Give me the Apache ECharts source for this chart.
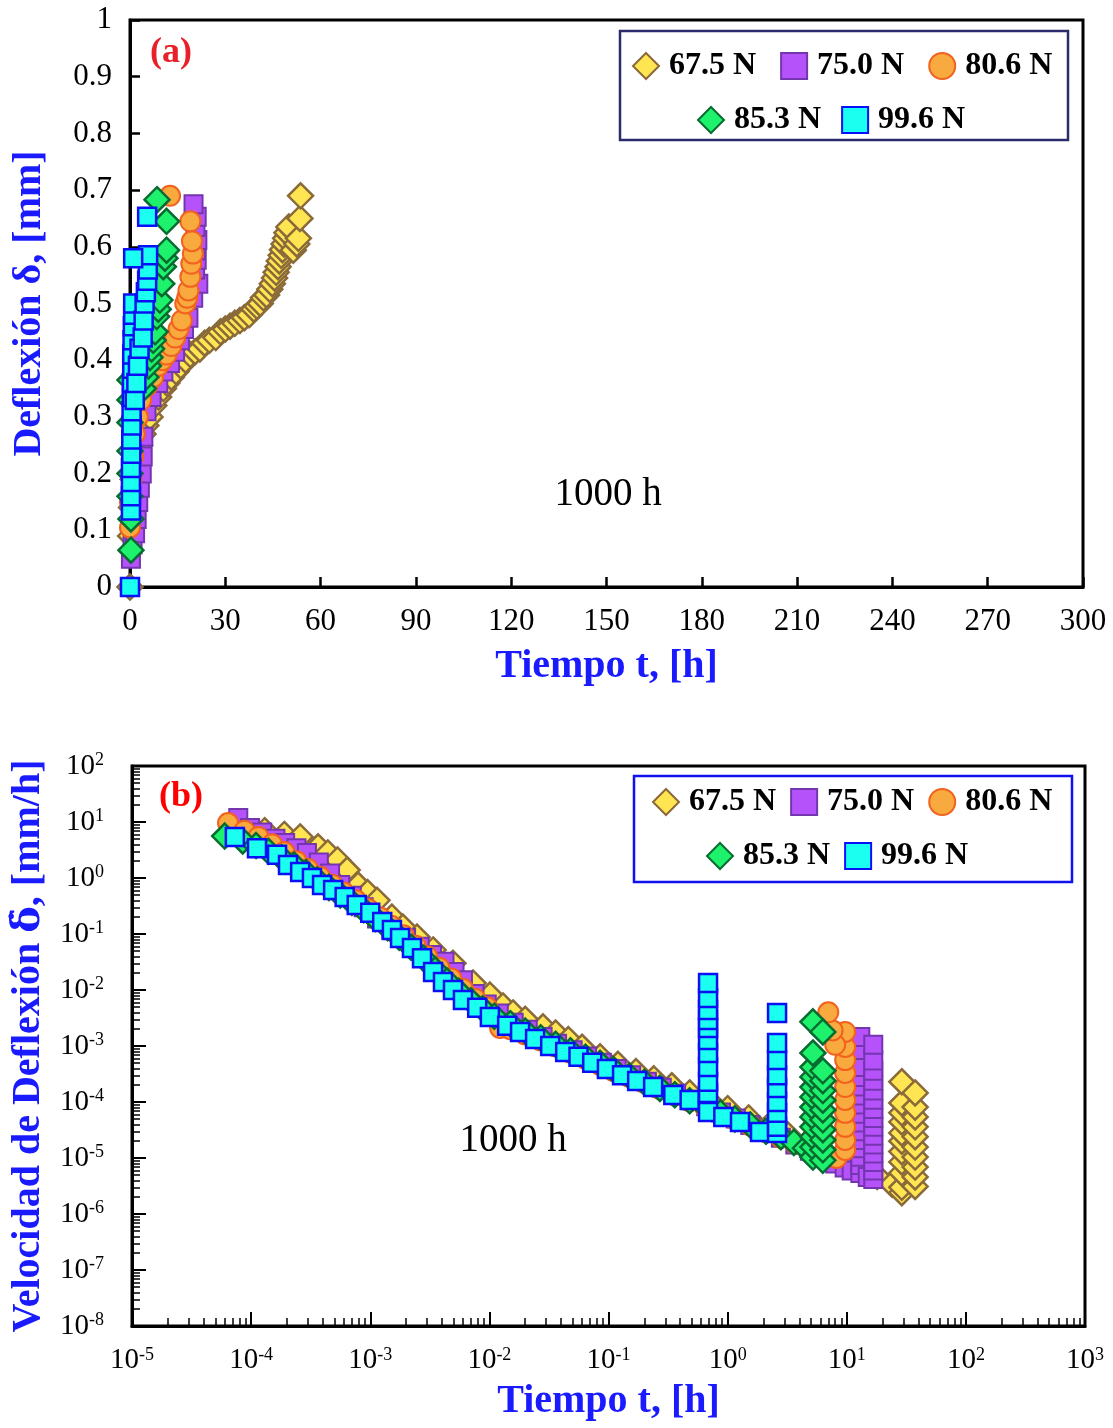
<!DOCTYPE html>
<html><head><meta charset="utf-8">
<script src="https://cdn.jsdelivr.net/npm/echarts@6/dist/echarts.min.js"></script>
<style>html,body{margin:0;padding:0;background:#fff}#c{width:1113px;height:1428px}</style>
</head><body><div id="c"></div>
<script>
const seriesNames = ['67.5 N', '75.0 N', '80.6 N', '85.3 N', '99.6 N'];

// ---- (a) Deflexión vs tiempo : [t (h), δ (mm)]
const defl675 = [[0,0],[0.2,0.09],[0.5,0.14],[1,0.19],[2,0.23],[3,0.25],[4.1,0.27],[5,0.285],[6.3,0.3],[7.5,0.32],[9,0.335],[10.5,0.35],[11.6,0.36],[13,0.37],[14.5,0.38],[16,0.39],[17.5,0.4],[19,0.41],[20.5,0.415],[22,0.42],[23.5,0.43],[25,0.435],[27,0.44],[28.5,0.45],[30,0.455],[31.5,0.46],[33,0.465],[34.6,0.47],[36,0.475],[37.5,0.48],[39,0.49],[40,0.495],[41,0.5],[42,0.51],[43,0.515],[44,0.525],[44.8,0.535],[45.5,0.545],[46,0.555],[46.6,0.565],[47,0.575],[47.6,0.585],[48,0.595],[48.5,0.605],[49,0.615],[49.4,0.625],[50,0.635],[51.4,0.594],[52.5,0.605],[53,0.615],[53.5,0.65],[53.7,0.69]];
const defl750 = [[0.3,0.05],[0.8,0.075],[1.6,0.095],[2.1,0.12],[2.6,0.15],[3.1,0.175],[3.7,0.2],[4,0.23],[4.2,0.265],[5.2,0.31],[6.8,0.335],[8.9,0.36],[10.5,0.38],[12.6,0.395],[14.2,0.415],[15.7,0.435],[17,0.455],[18.4,0.475],[19.9,0.51],[21.5,0.535],[20.5,0.56],[21,0.577],[20.8,0.594],[21.2,0.612],[20.6,0.635],[21,0.653],[20,0.675]];
const defl806 = [[0,0.105],[0,0.15],[0.5,0.19],[1,0.23],[1.5,0.27],[2.5,0.3],[3.5,0.33],[5.5,0.355],[7.3,0.37],[8.9,0.39],[10.2,0.4],[11.5,0.41],[13,0.425],[14.2,0.44],[15.3,0.455],[16.3,0.47],[17.4,0.5],[18,0.51],[18.4,0.523],[19,0.547],[19.3,0.57],[19.8,0.588],[19.5,0.61],[19,0.645],[12.6,0.69]];
const defl853 = [[0.3,0.065],[0.3,0.12],[0,0.16],[0,0.2],[0,0.24],[0,0.29],[0,0.33],[0,0.365],[4.2,0.35],[5,0.37],[5.8,0.39],[6.3,0.405],[6.8,0.42],[7.3,0.435],[7.9,0.45],[8.4,0.477],[8.9,0.49],[9.4,0.506],[10,0.535],[10.5,0.565],[11,0.58],[11.5,0.594],[11.5,0.645],[8.5,0.683]];
const defl996 = [[0,0],[0.3,0.135],[0.3,0.16],[0.3,0.185],[0.3,0.21],[0.4,0.235],[0.4,0.26],[0.5,0.285],[0.5,0.31],[0.6,0.335],[0.6,0.36],[0.7,0.385],[0.7,0.41],[0.8,0.435],[0.9,0.46],[1,0.48],[1,0.5],[1.5,0.33],[2,0.36],[2.5,0.39],[3,0.42],[4,0.44],[4.3,0.47],[4.6,0.5],[5,0.52],[5.4,0.54],[5.6,0.56],[5.7,0.585],[1,0.58],[5.4,0.653]];

// ---- (b) Velocidad de deflexión vs tiempo : [t (h), v (mm/h)]
const rate675 = [[1.3e-4,7.0],[1.9e-4,6.0],[2.58e-4,5.4],[3.65e-4,3.6],[4.4e-4,2.8],[5.3e-4,2.1],[6.4e-4,1.39],[7.9e-4,0.75],[9.5e-4,0.55],[1.14e-3,0.4],[1.52e-3,0.2],[1.88e-3,0.133],[2.47e-3,0.088],[3.37e-3,0.052],[4.95e-3,0.03],[7.3e-3,0.0133],[1.01e-2,8.1e-3],[1.3e-2,5.2e-3],[1.58e-2,3.9e-3],[2.0e-2,3.0e-3],[2.82e-2,2.2e-3],[3.6e-2,1.7e-3],[4.6e-2,1.3e-3],[6.0e-2,9.5e-4],[8.5e-2,6.4e-4],[0.12,4.7e-4],[0.17,3.5e-4],[0.24,2.6e-4],[0.34,1.95e-4],[0.48,1.45e-4],[0.7,1.05e-4],[1.0,7.6e-5],[1.5,5.2e-5],[2.2,3.7e-5],[3.2,2.6e-5],[4.6,1.8e-5],[6.5,1.3e-5],[9.0,9.5e-6],[13,6.6e-6],[18,4.7e-6],[24,3.4e-6],[29,2.4e-6],[29,3.0e-6],[29,5.4e-6],[29,8.5e-6],[29,1.3e-5],[29,2.0e-5],[29,2.8e-5],[29,4.4e-5],[29,6.4e-5],[29,9.6e-5],[29,2.3e-4],[37.5,3.1e-6],[37.5,4.6e-6],[37.5,6.9e-6],[37.5,1.04e-5],[37.5,1.57e-5],[37.5,2.4e-5],[37.5,3.6e-5],[37.5,5.4e-5],[37.5,8.1e-5],[37.5,1.45e-4]];
const rate750 = [[7.8e-5,11.8],[9.8e-5,7.8],[1.24e-4,6.5],[1.6e-4,5.0],[1.93e-4,4.2],[2.4e-4,3.4],[2.94e-4,2.8],[3.7e-4,1.9],[4.6e-4,1.2],[5.6e-4,0.75],[7.0e-4,0.48],[8.8e-4,0.3],[1.14e-3,0.19],[1.5e-3,0.12],[2.0e-3,0.085],[2.6e-3,0.059],[3.3e-3,0.042],[4.2e-3,0.032],[5.1e-3,0.021],[6.0e-3,0.015],[7.5e-3,8.5e-3],[9.5e-3,5.5e-3],[1.2e-2,3.8e-3],[1.6e-2,2.6e-3],[2.1e-2,1.95e-3],[2.8e-2,1.45e-3],[3.7e-2,1.1e-3],[5.0e-2,8.4e-4],[6.6e-2,6.5e-4],[8.8e-2,5.0e-4],[0.117,3.9e-4],[0.155,3.0e-4],[0.21,2.3e-4],[0.28,1.8e-4],[0.37,1.4e-4],[0.5,1.08e-4],[0.66,8.4e-5],[0.88,6.5e-5],[1.17,5.1e-5],[1.55,3.9e-5],[2.1,3.0e-5],[2.8,2.3e-5],[3.7,1.75e-5],[4.9,1.35e-5],[6.5,1.05e-5],[8.0,8.0e-6],[9.6,6.8e-6],[11,6.0e-6],[13,5.4e-6],[13,7.5e-6],[13,1.05e-5],[13,1.5e-5],[13,2.1e-5],[13,3.0e-5],[13,4.3e-5],[13,6.2e-5],[13,9.0e-5],[13,1.3e-4],[13,1.9e-4],[13,2.8e-4],[13,4.2e-4],[13,8.5e-4],[13,1.45e-3],[15,4.6e-6],[16.7,4.2e-6],[16.7,6.0e-6],[16.7,8.5e-6],[16.7,1.2e-5],[16.7,1.75e-5],[16.7,2.5e-5],[16.7,3.6e-5],[16.7,5.2e-5],[16.7,7.5e-5],[16.7,1.1e-4],[16.7,1.6e-4],[16.7,2.4e-4],[16.7,3.6e-4],[16.7,5.5e-4],[16.7,1.05e-3]];
const rate806 = [[6.4e-5,9.6],[8.8e-5,7.0],[1.15e-4,5.4],[1.5e-4,4.0],[1.9e-4,2.9],[2.4e-4,2.0],[3.0e-4,1.45],[3.8e-4,1.05],[4.8e-4,0.76],[6.0e-4,0.55],[7.6e-4,0.4],[9.6e-4,0.28],[1.2e-3,0.2],[1.5e-3,0.14],[1.9e-3,0.095],[2.4e-3,0.062],[3.0e-3,0.04],[3.8e-3,0.025],[4.8e-3,0.016],[6.0e-3,0.0105],[7.6e-3,7.0e-3],[9.6e-3,4.9e-3],[1.23e-2,2.1e-3],[1.5e-2,2.0e-3],[2.0e-2,1.6e-3],[2.7e-2,1.25e-3],[3.6e-2,9.8e-4],[4.8e-2,7.6e-4],[6.4e-2,5.9e-4],[8.5e-2,4.6e-4],[0.11,3.6e-4],[0.15,2.8e-4],[0.2,2.2e-4],[0.27,1.7e-4],[0.36,1.32e-4],[0.48,1.03e-4],[0.65,8.0e-5],[0.87,6.3e-5],[1.15,4.9e-5],[1.55,3.8e-5],[2.1,2.9e-5],[2.8,2.3e-5],[3.7,1.8e-5],[4.9,1.45e-5],[6.4,1.2e-5],[8.2,1.0e-5],[9.7,1.39e-5],[9.7,2.1e-5],[9.7,3.6e-5],[9.7,6.4e-5],[9.7,1.09e-4],[9.7,1.85e-4],[9.7,3.3e-4],[9.7,5.6e-4],[9.7,9.6e-4],[9.7,1.78e-3],[8.0,1.05e-3],[7.6,1.9e-3],[7.0,4.0e-3]];
const rate853 = [[6.0e-5,5.6],[8.5e-5,4.6],[1.1e-4,3.8],[1.4e-4,3.0],[1.8e-4,2.3],[2.3e-4,1.7],[2.9e-4,1.25],[3.6e-4,0.92],[4.5e-4,0.68],[5.6e-4,0.5],[7.0e-4,0.37],[8.8e-4,0.27],[1.1e-3,0.19],[1.4e-3,0.13],[1.75e-3,0.088],[2.2e-3,0.058],[2.8e-3,0.037],[3.5e-3,0.023],[4.4e-3,0.0145],[5.5e-3,9.5e-3],[7.0e-3,6.4e-3],[8.8e-3,4.6e-3],[1.1e-2,3.4e-3],[1.5e-2,2.5e-3],[2.0e-2,1.85e-3],[2.7e-2,1.4e-3],[3.6e-2,1.07e-3],[4.8e-2,8.2e-4],[6.4e-2,6.3e-4],[8.5e-2,4.9e-4],[0.11,3.8e-4],[0.15,2.9e-4],[0.2,2.25e-4],[0.27,1.75e-4],[0.36,1.35e-4],[0.48,1.05e-4],[0.65,8.2e-5],[0.87,6.4e-5],[1.15,5.0e-5],[1.55,3.9e-5],[2.1,3.0e-5],[2.8,2.4e-5],[3.6,1.9e-5],[4.5,1.5e-5],[5.2,1.04e-5],[5.2,1.57e-5],[5.2,2.4e-5],[5.2,3.6e-5],[5.2,5.4e-5],[5.2,8.1e-5],[5.2,1.23e-4],[5.2,1.85e-4],[5.2,2.8e-4],[5.2,4.2e-4],[5.2,7.5e-4],[5.2,2.7e-3],[6.3,9.1e-6],[6.3,1.4e-5],[6.3,2.1e-5],[6.3,3.2e-5],[6.3,4.8e-5],[6.3,7.2e-5],[6.3,1.08e-4],[6.3,1.6e-4],[6.3,2.4e-4],[6.3,3.6e-4],[6.3,1.78e-3]];
const rate996 = [[7.3e-5,5.4],[1.12e-4,3.4],[1.65e-4,2.6],[2.04e-4,1.7],[2.58e-4,1.28],[3.24e-4,1.0],[3.94e-4,0.75],[4.88e-4,0.61],[6.1e-4,0.46],[7.7e-4,0.33],[1.0e-3,0.24],[1.26e-3,0.164],[1.52e-3,0.118],[1.78e-3,0.085],[2.24e-3,0.056],[2.72e-3,0.037],[3.37e-3,0.021],[4.08e-3,0.0139],[4.95e-3,0.01],[6.0e-3,6.6e-3],[7.9e-3,4.8e-3],[1.01e-2,3.3e-3],[1.41e-2,2.3e-3],[1.81e-2,1.78e-3],[2.42e-2,1.33e-3],[3.24e-2,1.0e-3],[4.33e-2,7.8e-4],[5.6e-2,6.4e-4],[7.3e-2,5.0e-4],[9.7e-2,3.9e-4],[0.13,3.0e-4],[0.174,2.37e-4],[0.237,1.85e-4],[0.35,1.33e-4],[0.48,1.09e-4],[0.685,6.6e-5],[0.685,1.45e-4],[0.685,2.3e-4],[0.685,4.2e-4],[0.685,7.5e-4],[0.685,1.28e-3],[0.685,2.1e-3],[0.685,2.9e-3],[0.685,4.4e-3],[0.685,7.2e-3],[0.685,1.33e-2],[0.92,5.4e-5],[1.27,4.4e-5],[1.87,2.9e-5],[2.6,2.8e-5],[2.6,3.6e-5],[2.6,6.4e-5],[2.6,1.0e-4],[2.6,1.78e-4],[2.6,3.0e-4],[2.6,5.6e-4],[2.6,1.13e-3],[2.6,3.9e-3]];

// ---- axis ticks
const xTicksA = [0, 30, 60, 90, 120, 150, 180, 210, 240, 270, 300];
const yTicksA = [0, 0.1, 0.2, 0.3, 0.4, 0.5, 0.6, 0.7, 0.8, 0.9, 1];
const xDecadesB = [1e-5, 1e-4, 1e-3, 1e-2, 1e-1, 1, 10, 100, 1000];
const yDecadesB = [1e-8, 1e-7, 1e-6, 1e-5, 1e-4, 1e-3, 1e-2, 1e-1, 1, 10, 100];

function minorsOf(decades) {
  const out = [];
  for (let i = 0; i < decades.length - 1; i++)
    for (let m = 2; m < 10; m++) out.push(+(m * decades[i]).toPrecision(6));
  return out;
}

const defl = [defl675, defl750, defl806, defl853, defl996];
const rate = [rate675, rate750, rate806, rate853, rate996];
const styles = [
  { symbol: 'diamond', size: 25, fill: '#FFE552', border: '#8A6A3A', bw: 2.5 },
  { symbol: 'rect', size: 18, fill: '#B652FA', border: '#7436AE', bw: 2 },
  { symbol: 'circle', size: 20, fill: '#F9AA3E', border: '#F2611E', bw: 2 },
  { symbol: 'diamond', size: 25, fill: '#1EF26C', border: '#0A6B32', bw: 2.5 },
  { symbol: 'rect', size: 18, fill: '#1AFFEF', border: '#0A10F5', bw: 2.5 }
];

const FONT = 'Liberation Serif';
const BLUE = '#1A1AFF';

function mkSeries(i, data, xi, yi) {
  const s = styles[i];
  return {
    type: 'scatter', name: seriesNames[i], data: data, xAxisIndex: xi, yAxisIndex: yi,
    symbol: s.symbol, symbolSize: s.size, clip: false,
    itemStyle: { color: s.fill, borderColor: s.border, borderWidth: s.bw, opacity: 1 },
    emphasis: { disabled: true }
  };
}
const series = [];
for (let i = 0; i < 5; i++) series.push(mkSeries(i, defl[i], 0, 0));
for (let i = 0; i < 5; i++) series.push(mkSeries(i, rate[i], 1, 1));

const supFmt = v => '{b|10}{s|' + Math.round(Math.log10(v)) + '}';
const supRich = {
  b: { fontSize: 29, fontFamily: FONT, color: '#000' },
  s: { fontSize: 18, fontFamily: FONT, color: '#000', verticalAlign: 'top' }
};
const nameStyle = { fontSize: 40, fontWeight: 'bold', color: BLUE, fontFamily: FONT };
const nameStyleDot = Object.assign({}, nameStyle, {
  rich: { d: { fontSize: 40, fontWeight: 'bold', color: BLUE, fontFamily: 'DejaVu Serif' } }
});
const lineBlack = { color: '#000', width: 3 };

const legendText = { fontSize: 32, fontWeight: 'bold', fontFamily: FONT, color: '#000', padding: [0, 0, 0, 5] };
function mkLegend(names, left, top, gap) {
  return { data: names, left: left, top: top, orient: 'horizontal', itemWidth: 26, itemHeight: 26,
    itemGap: gap, padding: 0, selectedMode: false, textStyle: legendText };
}

const option = {
  animation: false,
  backgroundColor: '#fff',
  textStyle: { fontFamily: FONT },
  grid: [
    { left: 130, top: 20, width: 953, height: 567, show: true, borderColor: '#000', borderWidth: 3 },
    { left: 132, top: 766, width: 953, height: 560, show: true, borderColor: '#000', borderWidth: 3 }
  ],
  xAxis: [
    { gridIndex: 0, type: 'value', min: xTicksA[0], max: xTicksA[xTicksA.length - 1], interval: 30,
      axisLine: { show: true, lineStyle: lineBlack },
      axisTick: { show: true, inside: true, length: 10, lineStyle: { color: '#000', width: 2.5 } },
      axisLabel: { fontSize: 31, color: '#000', margin: 19, fontFamily: FONT },
      splitLine: { show: false },
      name: 'Tiempo t, [h]', nameLocation: 'middle', nameGap: 60, nameTextStyle: nameStyle },
    { gridIndex: 1, type: 'log', min: 1e-5, max: 1e3, position: 'bottom',
      axisLine: { show: true, lineStyle: lineBlack },
      axisTick: { show: true, inside: true, length: 14, customValues: xDecadesB, lineStyle: { color: '#000', width: 2 } },
      axisLabel: { customValues: xDecadesB, formatter: supFmt, rich: supRich, margin: 20 },
      splitLine: { show: false }, minorTick: { show: false },
      name: 'Tiempo t, [h]', nameLocation: 'middle', nameGap: 56, nameTextStyle: nameStyle },
    { gridIndex: 1, type: 'log', min: 1e-5, max: 1e3, position: 'bottom',
      axisLine: { show: false },
      axisTick: { show: true, inside: true, length: 8, customValues: minorsOf(xDecadesB), lineStyle: { color: '#000', width: 1.5 } },
      axisLabel: { show: false }, splitLine: { show: false } }
  ],
  yAxis: [
    { gridIndex: 0, type: 'value', min: yTicksA[0], max: yTicksA[yTicksA.length - 1], interval: 0.1,
      axisLine: { show: true, lineStyle: lineBlack },
      axisTick: { show: true, inside: true, length: 10, lineStyle: { color: '#000', width: 2.5 } },
      axisLabel: { fontSize: 31, color: '#000', margin: 18, fontFamily: FONT },
      splitLine: { show: false },
      name: 'Deflexión δ, [mm]', nameLocation: 'middle', nameGap: 80, nameTextStyle: nameStyle },
    { gridIndex: 1, type: 'log', min: 1e-8, max: 100, position: 'left',
      axisLine: { show: true, lineStyle: lineBlack },
      axisTick: { show: true, inside: true, length: 14, customValues: yDecadesB, lineStyle: { color: '#000', width: 2 } },
      axisLabel: { customValues: yDecadesB, formatter: supFmt, rich: supRich, margin: 28 },
      splitLine: { show: false }, minorTick: { show: false },
      name: 'Velocidad de Deflexión {d|δ\u0307}, [mm/h]', nameLocation: 'middle', nameGap: 82, nameTextStyle: nameStyleDot },
    { gridIndex: 1, type: 'log', min: 1e-8, max: 100, position: 'left',
      axisLine: { show: false },
      axisTick: { show: true, inside: true, length: 8, customValues: minorsOf(yDecadesB), lineStyle: { color: '#000', width: 1.5 } },
      axisLabel: { show: false }, splitLine: { show: false } }
  ],
  legend: [
    mkLegend(seriesNames.slice(0, 3), 632, 50, 24),
    mkLegend(seriesNames.slice(3), 697, 104, 20),
    mkLegend(seriesNames.slice(0, 3), 652, 786, 14),
    mkLegend(seriesNames.slice(3), 706, 840, 14)
  ],
  graphic: [
    { type: 'rect', shape: { x: 620, y: 31, width: 448, height: 109 }, style: { fill: 'none', stroke: '#2B2A6B', lineWidth: 2.5 }, z: 10 },
    { type: 'rect', shape: { x: 634, y: 776, width: 438, height: 106 }, style: { fill: 'none', stroke: '#1010F0', lineWidth: 2.5 }, z: 10 },
    { type: 'text', x: 171, y: 53, style: { text: '(a)', fill: '#E8202A', font: 'bold 36px "Liberation Serif"', align: 'center', verticalAlign: 'middle' }, z: 10 },
    { type: 'text', x: 181, y: 797, style: { text: '(b)', fill: '#FF0000', font: 'bold 36px "Liberation Serif"', align: 'center', verticalAlign: 'middle' }, z: 10 },
    { type: 'text', x: 608, y: 495, style: { text: '1000 h', fill: '#000', font: '39px "Liberation Serif"', align: 'center', verticalAlign: 'middle' }, z: 10 },
    { type: 'text', x: 513, y: 1141, style: { text: '1000 h', fill: '#000', font: '39px "Liberation Serif"', align: 'center', verticalAlign: 'middle' }, z: 10 }
  ],
  series: series
};

const chart = echarts.init(document.getElementById('c'), null, { renderer: 'canvas' });
chart.setOption(option);
</script>
</body></html>
